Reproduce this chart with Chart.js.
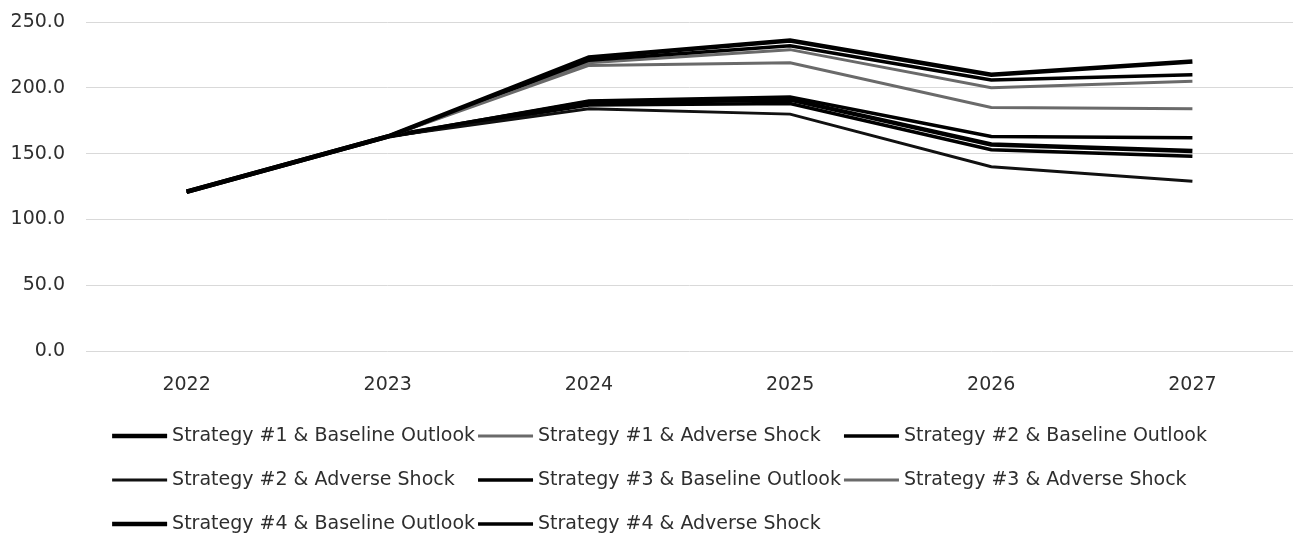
<!DOCTYPE html>
<html>
<head>
<meta charset="utf-8">
<script src="https://cdn.jsdelivr.net/npm/chart.js@4.4.1/dist/chart.umd.min.js"></script>
<style>
  html, body { margin: 0; padding: 0; background: #fff; }
  #wrap { width: 1295px; height: 540px; position: relative; }
</style>
</head>
<body>
<div id="wrap"><canvas id="chart"></canvas></div>
<script>
const years = ['2022', '2023', '2024', '2025', '2026', '2027'];
const yTicks = [0, 50, 100, 150, 200, 250];

const s1Baseline = [121, 163, 223, 236, 210, 220];
const s1Adverse  = [121, 163, 217, 219, 185, 184];
const s2Baseline = [121, 163, 190, 193, 163, 162];
const s2Adverse  = [121, 163, 184, 180, 140, 129];
const s3Baseline = [121, 163, 221, 232, 206, 210];
const s3Adverse  = [121, 163, 219, 229, 200, 205];
const s4Baseline = [121, 163, 189, 191, 157, 152];
const s4Adverse  = [121, 163, 187, 188, 153, 148];

const FONT = 'DejaVu Sans';
const TEXT = '#2e2e2e';

function line(label, data, color, width) {
  return {
    label, data,
    borderColor: color,
    backgroundColor: color,
    borderWidth: width,
    pointRadius: 0,
    tension: 0
  };
}

// legend drawn as a grid of 3 columns under the axis
const gridLegend = {
  id: 'gridLegend',
  afterDraw(chart) {
    const ctx = chart.ctx;
    const sets = chart.data.datasets;
    const cols = 3, swatch = 55, gap = 5, colGap = 3;
    const rowY = [436, 480, 524];
    ctx.save();
    ctx.font = `19px "${FONT}"`;
    const maxText = Math.max(...sets.map(d => ctx.measureText(d.label).width));
    const colW = swatch + gap + maxText + colGap;
    const total = cols * colW - colGap;
    const x0 = chart.width / 2 + 12 - total / 2;
    sets.forEach((d, i) => {
      const x = x0 + (i % cols) * colW;
      const y = rowY[Math.floor(i / cols)];
      ctx.strokeStyle = d.borderColor;
      ctx.lineWidth = d.borderWidth;
      ctx.beginPath();
      ctx.moveTo(x, y);
      ctx.lineTo(x + swatch, y);
      ctx.stroke();
      ctx.fillStyle = TEXT;
      ctx.textAlign = 'left';
      ctx.textBaseline = 'middle';
      ctx.fillText(d.label, x + swatch + gap, y);
    });
    ctx.restore();
  }
};

new Chart(document.getElementById('chart'), {
  type: 'line',
  data: {
    labels: years,
    datasets: [
      line('Strategy #1 & Baseline Outlook', s1Baseline, '#000000', 4.5),
      line('Strategy #1 & Adverse Shock', s1Adverse, '#6a6a6a', 3),
      line('Strategy #2 & Baseline Outlook', s2Baseline, '#000000', 3.5),
      line('Strategy #2 & Adverse Shock', s2Adverse, '#111111', 3),
      line('Strategy #3 & Baseline Outlook', s3Baseline, '#000000', 3.5),
      line('Strategy #3 & Adverse Shock', s3Adverse, '#6a6a6a', 3),
      line('Strategy #4 & Baseline Outlook', s4Baseline, '#000000', 4.5),
      line('Strategy #4 & Adverse Shock', s4Adverse, '#000000', 3.5)
    ]
  },
  options: {
    responsive: true,
    maintainAspectRatio: false,
    animation: false,
    layout: { padding: { top: 22, left: 10, right: 2, bottom: 150 } },
    plugins: {
      legend: { display: false },
      tooltip: { enabled: false }
    },
    scales: {
      x: {
        offset: true,
        grid: { display: false },
        border: { display: false },
        ticks: { color: TEXT, font: { family: FONT, size: 19 }, padding: 15 },
        afterFit: (axis) => { axis.height = 39; }
      },
      y: {
        min: 0,
        max: 250,
        afterBuildTicks: (axis) => { axis.ticks = yTicks.map(v => ({ value: v })); },
        // invisible tick marks keep the labels clear of the plot area
        grid: { color: '#d9d9d9', lineWidth: 1, drawTicks: true, tickLength: 21, tickColor: 'rgba(0,0,0,0)' },
        border: { display: false },
        ticks: {
          color: TEXT,
          font: { family: FONT, size: 19 },
          padding: 0,
          callback: (v) => v.toFixed(1)
        },
        afterFit: (axis) => { axis.width = 76; }
      }
    }
  },
  plugins: [gridLegend]
});
</script>
</body>
</html>
